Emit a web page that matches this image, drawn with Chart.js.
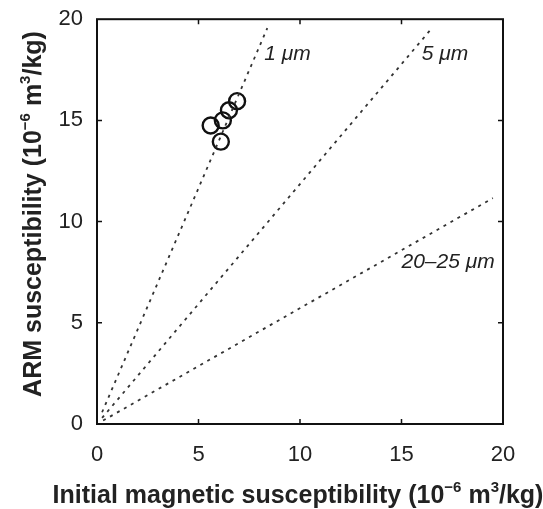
<!DOCTYPE html>
<html>
<head>
<meta charset="utf-8">
<script src="https://cdn.jsdelivr.net/npm/chart.js@4"></script>
<style>
  html, body { margin: 0; padding: 0; background: #fff; }
  #wrap { width: 543px; height: 509px; }
</style>
</head>
<body>
<div id="wrap"><canvas id="chart" width="543" height="509"></canvas></div>
<script>
// measured samples
const initialSusc = [5.6, 6.2, 6.5, 6.9, 6.1];
const armSusc = [14.75, 15.0, 15.5, 15.95, 13.95];

// grain size reference lines (end points)
const lineNames = ['1 μm', '5 μm', '20–25 μm'];
const lineX = [[0.25, 8.39], [0.25, 16.5], [0.3, 19.5]];
const lineY = [[0.58, 19.56], [0.3, 19.56], [0.17, 11.16]];
const labelX = [8.24, 16.0, 15.0];
const labelY = [17.98, 17.98, 7.7];

const axisTicks = [0, 5, 10, 15, 20];
const textColor = '#222';

// axis titles with superscripts
const xTitle = [['Initial magnetic susceptibility (10', false], ['−6', true], [' m', false], ['3', true], ['/kg)', false]];
const yTitle = [['ARM susceptibility (10', false], ['−6', true], [' m', false], ['3', true], ['/kg)', false]];

function drawRich(ctx, parts, cx, cy) {
  const big = 'bold 25px "Liberation Sans", Arial, sans-serif';
  const small = 'bold 15px "Liberation Sans", Arial, sans-serif';
  let total = 0;
  parts.forEach(p => { ctx.font = p[1] ? small : big; total += ctx.measureText(p[0]).width; });
  let x = cx - total / 2;
  ctx.textBaseline = 'alphabetic';
  ctx.textAlign = 'left';
  parts.forEach(p => {
    ctx.font = p[1] ? small : big;
    ctx.fillText(p[0], x, p[1] ? cy - 11 : cy);
    x += ctx.measureText(p[0]).width;
  });
}

const framePlugin = {
  id: 'frame',
  afterDatasetsDraw(chart) {
    const ctx = chart.ctx;
    const a = chart.chartArea;
    const xs = chart.scales.x, ys = chart.scales.y;
    ctx.save();
    ctx.strokeStyle = '#111';
    ctx.lineWidth = 2;
    ctx.strokeRect(a.left, a.top, a.right - a.left, a.bottom - a.top);
    // inward ticks on all four sides
    ctx.lineWidth = 1.5;
    axisTicks.slice(1, -1).forEach(v => {
      const px = xs.getPixelForValue(v), py = ys.getPixelForValue(v);
      ctx.beginPath();
      ctx.moveTo(px, a.bottom); ctx.lineTo(px, a.bottom - 5);
      ctx.moveTo(px, a.top); ctx.lineTo(px, a.top + 5);
      ctx.moveTo(a.left, py); ctx.lineTo(a.left + 5, py);
      ctx.moveTo(a.right, py); ctx.lineTo(a.right - 5, py);
      ctx.stroke();
    });
    // line labels
    ctx.fillStyle = textColor;
    ctx.font = 'italic 21px "Liberation Sans", Arial, sans-serif';
    ctx.textBaseline = 'alphabetic';
    ctx.textAlign = 'left';
    lineNames.forEach((n, i) => {
      ctx.fillText(n, xs.getPixelForValue(labelX[i]), ys.getPixelForValue(labelY[i]));
    });
    // axis titles
    drawRich(ctx, xTitle, 298, 503);
    ctx.translate(41, 214);
    ctx.rotate(-Math.PI / 2);
    drawRich(ctx, yTitle, 0, 0);
    ctx.restore();
  }
};

const refLines = lineNames.map((n, i) => ({
  type: 'line',
  label: n,
  data: lineX[i].map((x, j) => ({ x: x, y: lineY[i][j] })),
  borderColor: '#333',
  borderWidth: 1.8,
  borderDash: [3, 5],
  pointRadius: 0,
  fill: false
}));

new Chart(document.getElementById('chart'), {
  type: 'scatter',
  data: {
    datasets: [
      ...refLines,
      {
        label: 'samples',
        data: initialSusc.map((x, i) => ({ x: x, y: armSusc[i] })),
        pointRadius: 8,
        pointStyle: 'circle',
        backgroundColor: 'rgba(0,0,0,0)',
        borderColor: '#111',
        borderWidth: 2.4
      }
    ]
  },
  options: {
    responsive: false,
    animation: false,
    layout: { padding: { top: 19, right: 40, left: 0, bottom: 0 } },
    plugins: { legend: { display: false }, tooltip: { enabled: false } },
    scales: {
      x: {
        type: 'linear', min: 0, max: 20,
        afterFit: s => { s.height = 85; },
        afterBuildTicks: s => { s.ticks = axisTicks.map(v => ({ value: v })); },
        grid: { display: false },
        border: { display: false },
        ticks: { color: textColor, padding: 10, font: { size: 22, family: '"Liberation Sans", Arial' } }
      },
      y: {
        type: 'linear', min: 0, max: 20,
        afterFit: s => { s.width = 97; },
        afterBuildTicks: s => { s.ticks = axisTicks.map(v => ({ value: v })); },
        grid: { display: false },
        border: { display: false },
        ticks: { color: textColor, padding: 6, font: { size: 22, family: '"Liberation Sans", Arial' } }
      }
    }
  },
  plugins: [framePlugin]
});
</script>
</body>
</html>
